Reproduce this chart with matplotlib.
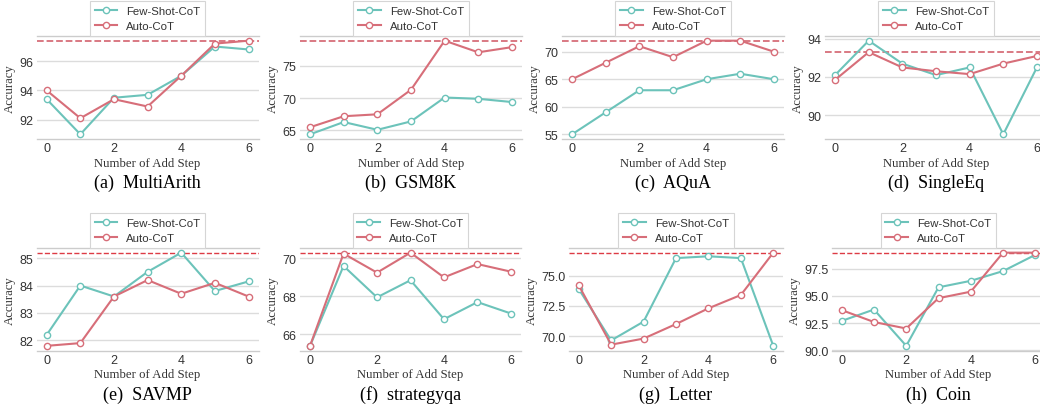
import matplotlib
matplotlib.use('Agg')
import matplotlib.pyplot as plt

steps = [0, 1, 2, 3, 4, 5, 6]

titles = ['(a)  MultiArith', '(b)  GSM8K', '(c)  AQuA', '(d)  SingleEq',
          '(e)  SAVMP', '(f)  strategyqa', '(g)  Letter', '(h)  Coin']

few_shot = [
    [93.4, 91.0, 93.5, 93.7, 95.0, 97.0, 96.8],
    [64.4, 66.3, 65.1, 66.4, 70.1, 69.9, 69.4],
    [55, 59, 63, 63, 65, 66, 65],
    [92.1, 93.9, 92.7, 92.1, 92.5, 89.0, 92.5],
    [82.2, 84.0, 83.6, 84.5, 85.2, 83.8, 84.15],
    [65.4, 69.6, 67.95, 68.85, 66.8, 67.7, 67.1],
    [73.9, 69.65, 71.2, 76.45, 76.6, 76.45, 69.2],
    [92.7, 93.75, 90.4, 95.8, 96.4, 97.3, 98.8],
]

auto_cot = [
    [94.0, 92.1, 93.4, 92.9, 95.0, 97.2, 97.4],
    [65.5, 67.2, 67.5, 71.3, 78.9, 77.1, 77.9],
    [65, 68, 71, 69, 72, 72, 70],
    [91.85, 93.3, 92.5, 92.3, 92.15, 92.7, 93.1],
    [81.8, 81.9, 83.6, 84.2, 83.7, 84.1, 83.6],
    [65.4, 70.25, 69.25, 70.3, 69.0, 69.7, 69.3],
    [74.2, 69.3, 69.8, 71.0, 72.3, 73.4, 76.9],
    [93.7, 92.6, 92.0, 94.8, 95.4, 99.0, 99.0],
]

best = [97.4, 78.9, 72.0, 93.3, 85.2, 70.3, 76.9, 99.0]

yticks = [
    [92, 94, 96],
    [65, 70, 75],
    [55, 60, 65, 70],
    [90, 92, 94],
    [82, 83, 84, 85],
    [66, 68, 70],
    [70.0, 72.5, 75.0],
    [90.0, 92.5, 95.0, 97.5],
]
ytick_fmt = ['{:.0f}'] * 6 + ['{:.1f}'] * 2

# pixel boxes: left, width
boxes = [(36.6, 222), (300, 222), (562, 222), (825, 222),
         (36.6, 222), (300, 221), (569, 214), (832, 213)]
row_top = [37, 249]
row_bot = [140, 351.5]
cap_y = [183, 395]

W, H = 1040, 410
TEAL = '#6cc3ba'
RED = '#d76e79'
serif = 'Liberation Serif'
sans = 'Liberation Sans'

fig = plt.figure(figsize=(W / 100, H / 100), dpi=100)

for i in range(8):
    r = i // 4
    left, width = boxes[i]
    ax = fig.add_axes([left / W, 1 - row_bot[r] / H, width / W, (row_bot[r] - row_top[r]) / H])
    ax.plot(steps, few_shot[i], color=TEAL, lw=1.5, marker='o', ms=4.5,
            mfc='white', mew=1.0, label='Few-Shot-CoT', zorder=3)
    ax.plot(steps, auto_cot[i], color=RED, lw=1.5, marker='o', ms=4.5,
            mfc='white', mew=1.0, label='Auto-CoT', zorder=3)
    if r == 0:
        ax.axhline(best[i], color=RED, lw=1.3, ls='--', zorder=2)
    else:
        ax.axhline(best[i], color='#dd3b45', lw=1.0, ls='--', zorder=2)

    ax.set_xticks([0, 2, 4, 6])
    ax.set_yticks(yticks[i])
    ax.set_yticklabels([ytick_fmt[i].format(v) for v in yticks[i]])
    ax.tick_params(length=0, labelsize=9, pad=2.5, colors='#333333')
    for lab in ax.get_xticklabels() + ax.get_yticklabels():
        lab.set_fontfamily(sans)
    ax.grid(axis='y', color='#dcdcdc', lw=1.0)
    ax.set_axisbelow(True)
    for s in ['left', 'right']:
        ax.spines[s].set_visible(False)
    for s in ['top', 'bottom']:
        ax.spines[s].set_color('#cccccc')
        ax.spines[s].set_linewidth(1.0)

    ax.set_xlabel('Number of Add Step', fontfamily=serif, fontsize=9.2, labelpad=1.5, color='#333333')
    ax.set_ylabel('Accuracy', fontfamily=serif, fontsize=9.2, labelpad=2.5, color='#333333')

    leg = ax.legend(loc='lower center', bbox_to_anchor=(0.5, 1.0), borderaxespad=0,
                    prop={'family': sans, 'size': 8.2}, fancybox=False, framealpha=1)
    leg.get_frame().set_edgecolor('#d5d5d5')
    leg.get_frame().set_linewidth(0.8)
    for t in leg.get_texts():
        t.set_color('#333333')

    fig.text((left + width / 2) / W, 1 - cap_y[r] / H, titles[i], ha='center', va='center',
             fontfamily=serif, fontsize=13)

fig.savefig('out.png', dpi=100)
